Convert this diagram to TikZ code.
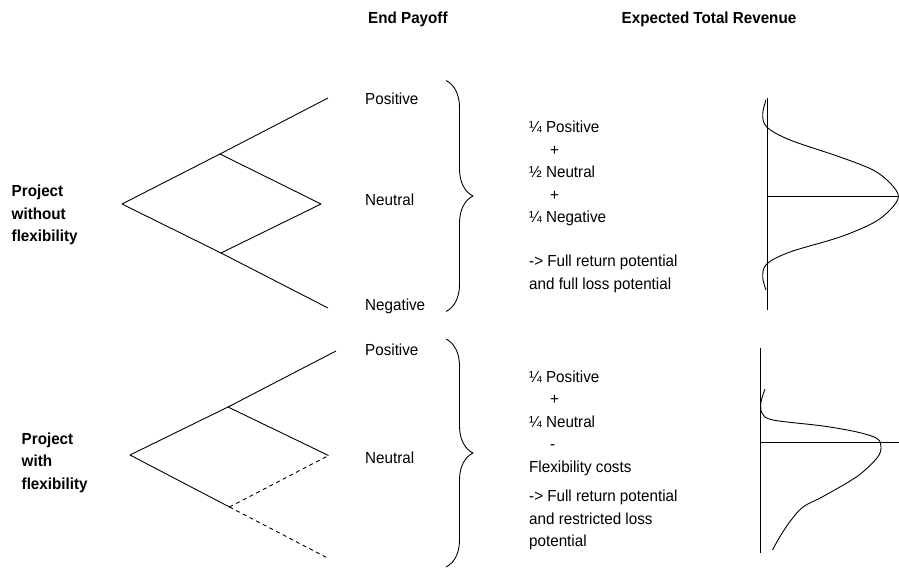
\documentclass[tikz,border=0pt]{standalone}
\usepackage{fontspec}
\setmainfont{Liberation Sans}[FakeStretch=0.95]
\usetikzlibrary{decorations.pathreplacing}
\begin{document}
\begin{tikzpicture}[x=1pt,y=-1pt,
  line/.style={line width=0.9pt, line join=round},
  opt/.style={line, dash pattern=on 4pt off 3.5pt},
  txt/.style={inner sep=0pt, align=left, anchor=base west,
    font=\fontsize{16}{22.5}\selectfont},
  head/.style={txt, font=\fontsize{16}{22.5}\selectfont\bfseries},
  bracebox/.style={line, decorate, decoration={brace, amplitude=27pt}}]
\useasboundingbox (0,0) rectangle (899,569);

% column headings
\node[head] (hpay) at (368,24) {End Payoff};
\node[head] (hrev) at (621.5,24) {Expected Total Revenue};

% ---- project without flexibility ----
% multi-line labels are placed by the baseline of their last line
\node[head] (proj1) at (11.5,242) {Project\\without\\flexibility};
\coordinate (r1) at (122,204);
\coordinate (u1) at (220,154);
\coordinate (d1) at (221,253);
\coordinate (p1) at (328,98);
\coordinate (m1) at (321,204);
\coordinate (n1) at (328,308);
\draw[line] (p1) -- (u1) -- (r1) -- (d1) -- (n1);
\draw[line] (u1) -- (m1) -- (d1);
\node[txt] (pos1) at (365,105) {Positive};
\node[txt] (neu1) at (365,205.5) {Neutral};
\node[txt] (neg1) at (365,310) {Negative};
\coordinate (bt1) at (446,80.5);
\coordinate (bb1) at (446,311.5);
\draw[bracebox] (bt1) -- (bb1);
\node[txt] (sum1) at (529,289) {¼ Positive\\\hspace*{21pt}+\\½ Neutral\\\hspace*{21pt}+\\¼ Negative\\[21.5pt]-> Full return potential\\and full loss potential};

% symmetric revenue distribution
\coordinate (ax1t) at (767,98);
\coordinate (ax1b) at (767,310);
\coordinate (ax1o) at (767,196.5);
\coordinate (ax1r) at (899,196.5);
\draw[line] (ax1t) -- (ax1b);
\draw[line] (ax1o) -- (ax1r);
\draw[line] plot[smooth, tension=0.55] coordinates {(766,100) (762.7,114) (766.7,127) (790,140) (840,157) (873,170) (890,183) (898.5,196.5) (890,210) (873,223) (840,237) (790,252) (766.7,264) (762.7,277) (766,290)};

% ---- project with flexibility ----
\node[head] (proj2) at (21.5,489) {Project\\with\\flexibility};
\coordinate (r2) at (130,455);
\coordinate (u2) at (228,407);
\coordinate (d2) at (229.5,507);
\coordinate (p2) at (336,351);
\coordinate (m2) at (328.5,455.5);
\coordinate (n2) at (328.5,558.5);
\draw[line] (p2) -- (u2) -- (r2) -- (d2);
\draw[line] (u2) -- (m2);
\draw[opt] (d2) -- (m2);
\draw[opt] (d2) -- (n2);
\node[txt] (pos2) at (365,355.5) {Positive};
\node[txt] (neu2) at (365,463) {Neutral};
\coordinate (bt2) at (446,339);
\coordinate (bb2) at (446,567);
\draw[bracebox] (bt2) -- (bb2);
\node[txt] (sum2) at (529,546.5) {¼ Positive\\\hspace*{21pt}+\\¼ Neutral\\\hspace*{21pt}-\\Flexibility costs\\[7pt]-> Full return potential\\and restricted loss\\potential};

% skewed revenue distribution
\coordinate (ax2t) at (760,348);
\coordinate (ax2b) at (760,553);
\coordinate (ax2o) at (760,442.7);
\coordinate (ax2r) at (899,442.7);
\draw[line] (ax2t) -- (ax2b);
\draw[line] (ax2o) -- (ax2r);
\draw[line] plot[smooth, tension=0.55] coordinates {(765,389) (761,402) (762,413) (773,420) (823,426) (857,432) (877,438.5) (881,447) (877,458) (857,476.5) (823,496.5) (803,507) (790,521.5) (780,536.5) (772.5,550)};
\end{tikzpicture}
\end{document}
